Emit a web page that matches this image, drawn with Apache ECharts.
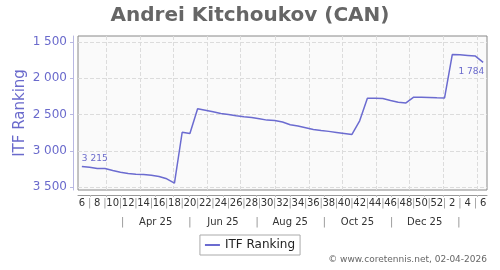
<!DOCTYPE html>
<html>
<head>
<meta charset="utf-8">
<script src="https://cdn.jsdelivr.net/npm/echarts@6/dist/echarts.min.js"></script>
<style>
html,body{margin:0;padding:0;background:#fff;}
#chart{width:500px;height:270px;}
</style>
</head>
<body>
<div id="chart"></div>
<script>
// ---- data ----
const weekLabels = ['6','7','8','9','10','11','12','13','14','15','16','17','18','19','20','21','22','23','24','25','26','27','28','29','30','31','32','33','34','35','36','37','38','39','40','41','42','43','44','45','46','47','48','49','50','51','52','1','2','3','4','5','6'];
const ranking = [3215,3226,3245,3245,3272,3295,3313,3322,3327,3336,3354,3386,3445,2745,2762,2421,2441,2464,2487,2500,2519,2533,2542,2560,2578,2583,2605,2642,2660,2683,2706,2720,2733,2747,2761,2775,2588,2278,2278,2281,2309,2331,2341,2262,2263,2267,2271,2272,1676,1679,1688,1697,1784];
const yTickValues = [1500,2000,2500,3000,3500];
const monthLabels = ['Apr 25','Jun 25','Aug 25','Oct 25','Dec 25'];
const monthLabelDates = ['2025-04-15','2025-06-15','2025-08-15','2025-10-15','2025-12-15'];
const monthSepDates = ['2025-03-16','2025-05-16','2025-07-16','2025-09-15','2025-11-15','2026-01-15'];
const monthStartDates = ['2025-03-01','2025-04-01','2025-05-01','2025-06-01','2025-07-01','2025-08-01','2025-09-01','2025-10-01','2025-11-01','2025-12-01','2026-01-01','2026-02-01'];
const firstPointDate = '2025-02-07';

// ---- helpers ----
const DAY = 86400000;
const t0 = Date.parse(firstPointDate);
const idx = d => (Date.parse(d) - t0) / DAY / 7;
const fmt = v => String(v).replace(/\B(?=(\d{3})+(?!\d))/g, ' ');

const monthStartPos = monthStartDates.map(idx);
const halfMonthPos = [];
monthStartDates.forEach(d => {
  halfMonthPos.push(idx(d));
  halfMonthPos.push(idx(d.slice(0, 8) + '15'));
});
halfMonthPos.push(idx('2025-02-15'));
halfMonthPos.sort((a, b) => a - b);

const secondRow = [];
monthLabelDates.forEach((d, i) => secondRow.push({ pos: idx(d), text: monthLabels[i] }));
monthSepDates.forEach(d => secondRow.push({ pos: idx(d), text: '|' }));
secondRow.sort((a, b) => a.pos - b.pos);

const lineColor = '#6b6bd0';
const labelColor = '#6a6acc';

const seriesData = ranking.map((v, i) => {
  if (i === 0) {
    return { value: v, label: { show: true, position: 'top', align: 'left', distance: 3, offset: [0, 0], formatter: p => fmt(p.value), color: labelColor, fontSize: 9 } };
  }
  if (i === ranking.length - 1) {
    return { value: v, label: { show: true, position: 'bottom', align: 'right', distance: 5, offset: [1, 0], formatter: p => fmt(p.value), color: labelColor, fontSize: 9 } };
  }
  return v;
});

const chart = echarts.init(document.getElementById('chart'), null, { renderer: 'canvas' });
const xMin = -0.5, xMax = weekLabels.length - 0.5;

chart.setOption({
  animation: false,
  textStyle: { fontFamily: 'DejaVu Sans' },
  title: [
    { text: 'Andrei Kitchoukov (CAN)', left: 'center', top: 1,
      textStyle: { fontSize: 20, fontWeight: 'bold', color: '#666', fontFamily: 'DejaVu Sans' } },
    { text: '© www.coretennis.net, 02-04-2026', right: 8, bottom: 1,
      textStyle: { fontSize: 9, fontWeight: 'normal', color: '#666', fontFamily: 'DejaVu Sans' } }
  ],
  legend: {
    top: 235, left: 'center',
    data: [{ name: 'ITF Ranking', icon: 'rect' }],
    borderColor: '#aaa', borderWidth: 1, backgroundColor: '#fff', borderRadius: 0,
    padding: [4, 5], itemWidth: 15, itemHeight: 2,
    textStyle: { fontSize: 12, color: '#222' }
  },
  grid: {
    left: 78, right: 13, top: 36, bottom: 80,
    show: true, borderColor: '#888', borderWidth: 1, backgroundColor: '#fafafa'
  },
  xAxis: [
    {
      type: 'category', data: weekLabels, boundaryGap: true, position: 'bottom', offset: 5,
      axisLine: { show: true, onZero: false, lineStyle: { color: '#999', width: 1 } },
      axisTick: { show: false },
      splitLine: { show: false },
      axisLabel: {
        interval: 0, margin: 3, fontSize: 10, color: '#333', hideOverlap: false,
        formatter: (v, i) => (i % 2 === 0 ? v : '{s||}'),
        rich: { s: { color: '#999', fontSize: 10 } }
      }
    },
    {
      type: 'value', min: xMin, max: xMax, position: 'bottom', offset: 23,
      axisLine: { show: false, onZero: false }, axisTick: { show: false, customValues: secondRow.map(o => o.pos) },
      splitLine: { show: false },
      axisLabel: {
        show: true, margin: 4, fontSize: 10, color: '#333', hideOverlap: false,
        customValues: secondRow.map(o => o.pos),
        formatter: v => {
          let best = secondRow[0];
          secondRow.forEach(o => { if (Math.abs(o.pos - v) < Math.abs(best.pos - v)) best = o; });
          return best.text === '|' ? '{s||}' : best.text;
        },
        rich: { s: { color: '#999', fontSize: 11 } }
      }
    },
    {
      type: 'value', min: xMin, max: xMax, position: 'bottom', offset: 5,
      axisLine: { show: false, onZero: false },
      axisTick: { show: true, length: 2, customValues: halfMonthPos, lineStyle: { color: '#bbb' } },
      axisLabel: { show: false }, splitLine: { show: false }
    },
    {
      type: 'value', min: xMin, max: xMax, position: 'bottom',
      axisLine: { show: false, onZero: false },
      axisTick: { show: false, customValues: monthStartPos },
      axisLabel: { show: false },
      splitLine: { show: true, lineStyle: { type: 'dashed', color: '#dcdcdc', width: 1 } }
    }
  ],
  yAxis: {
    type: 'value', inverse: true, min: 1420, max: 3540, offset: 5,
    name: 'ITF Ranking', nameLocation: 'middle', nameGap: 45, nameMoveOverlap: false,
    nameTextStyle: { fontSize: 15, color: labelColor },
    axisLine: { show: true, onZero: false, lineStyle: { color: '#b8b8e2' } },
    axisTick: { show: true, length: 3, customValues: yTickValues, lineStyle: { color: '#b8b8e2' } },
    axisLabel: { customValues: yTickValues, formatter: v => fmt(v), color: labelColor, fontSize: 12, margin: 6 },
    splitLine: { show: true, lineStyle: { type: 'dashed', color: '#dcdcdc', width: 1 } }
  },
  series: [{
    name: 'ITF Ranking', type: 'line', xAxisIndex: 0, yAxisIndex: 0,
    data: seriesData, symbol: 'circle', symbolSize: 0.01, showSymbol: true,
    lineStyle: { color: lineColor, width: 1.5 }, itemStyle: { color: lineColor }
  }]
});
</script>
</body>
</html>
